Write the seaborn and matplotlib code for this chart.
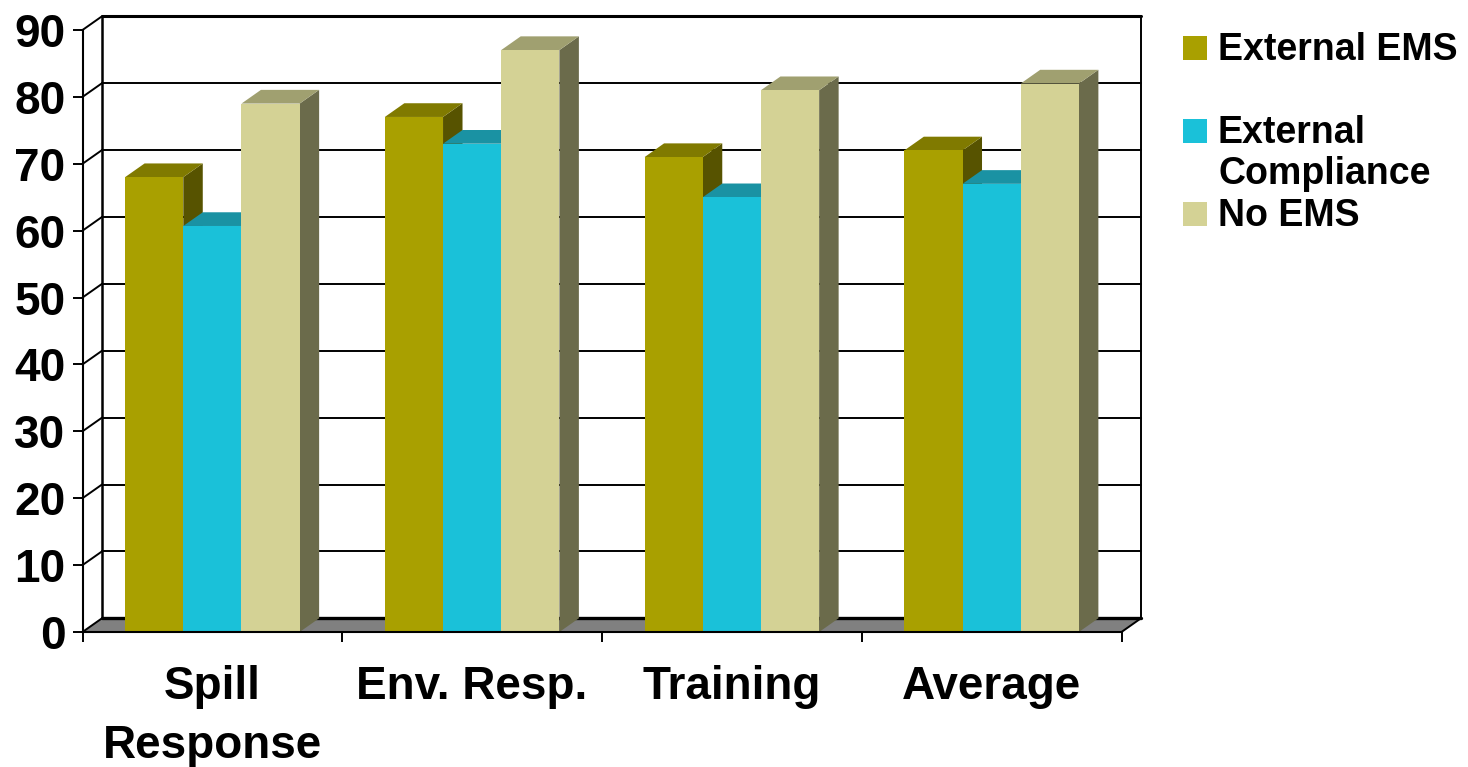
import numpy as np
import pandas as pd
import seaborn as sns
import matplotlib.pyplot as plt
from matplotlib.patches import Polygon, Rectangle

# values
categories = ['Spill\nResponse', 'Env. Resp.', 'Training', 'Average']
series_names = ['External EMS', 'External\nCompliance', 'No EMS']
external_ems = [68, 77, 71, 72]
external_compliance = [60.7, 73, 65, 67]
no_ems = [79, 87, 81, 82]
y_ticks = [0, 10, 20, 30, 40, 50, 60, 70, 80, 90]

front_colors = ['#A9A000', '#1AC1D9', '#D4D295']
top_colors = ['#807A00', '#1A92A3', '#A0A070']
side_colors = ['#575300', '#157F8F', '#6B6B4B']

# pseudo 3d depth in data units
DX = 19.5 / 260
DY = 2.05

W, H = 1468, 767

df = pd.DataFrame({
    'category': categories * 3,
    'series': [s for s in series_names for _ in categories],
    'value': external_ems + external_compliance + no_ems,
})

sns.set_style('white')
plt.rcParams['font.family'] = ['Liberation Sans', 'DejaVu Sans']
plt.rcParams['font.weight'] = 'bold'

fig = plt.figure(figsize=(W / 100, H / 100), dpi=100)
ax = fig.add_axes([82.5 / W, 1 - 632 / H, 1039 / W, 602 / H])

sns.barplot(data=df, x='category', y='value', hue='series', palette=front_colors,
            width=0.672, gap=0, saturation=1, legend=False, linewidth=0, zorder=5, ax=ax)

ax.set_xlim(-0.5, 3.5)
ax.set_ylim(0, 90)
ax.set_xlabel('')
ax.set_ylabel('')

x0, x1 = ax.get_xlim()

# floor
ax.add_patch(Polygon([(x0, 0), (x1, 0), (x1 + DX, DY), (x0 + DX, DY)], closed=True,
                     facecolor='#808080', edgecolor='none', clip_on=False, zorder=1))
ax.plot([x0 + DX, x1 + DX], [DY, DY], color='black', lw=2.4, clip_on=False, zorder=1.5)
ax.plot([x1, x1 + DX], [0, DY], color='black', lw=1.4, clip_on=False, zorder=1.5)

# back wall grid + left wall diagonals
for t in y_ticks:
    ax.plot([x0, x0 + DX], [t, t + DY], color='black', lw=1.4, clip_on=False, zorder=1.5)
    if t > 0:
        ax.plot([x0 + DX, x1 + DX], [t + DY, t + DY], color='black',
                lw=2.2 if t == 90 else 1.4, clip_on=False, zorder=1.5)
ax.plot([x0 + DX, x0 + DX], [DY, 90 + DY], color='black', lw=1.8, clip_on=False, zorder=1.5)
ax.plot([x1 + DX, x1 + DX], [DY, 90 + DY], color='black', lw=1.4, clip_on=False, zorder=1.5)

# sides and tops of the bars, left to right so the next top sits on the previous side
bars = []
for i, container in enumerate(ax.containers):
    for bar in container:
        bars.append((bar.get_x(), i, bar))
for _, i, bar in sorted(bars, key=lambda b: b[0]):
    left = bar.get_x()
    right = left + bar.get_width()
    top = bar.get_height()
    ax.add_patch(Polygon([(right, 0), (right + DX, DY), (right + DX, top + DY), (right, top)],
                         closed=True, facecolor=side_colors[i], edgecolor='none', zorder=3))
    ax.add_patch(Polygon([(left, top), (right, top), (right + DX, top + DY), (left + DX, top + DY)],
                         closed=True, facecolor=top_colors[i], edgecolor='none', zorder=3))

# axes
sns.despine(ax=ax, top=True, right=True)
for name in ['left', 'bottom']:
    ax.spines[name].set_linewidth(1.5)
    ax.spines[name].set_color('black')
    ax.spines[name].set_zorder(6)

ax.set_yticks(y_ticks)
ax.set_xticks(np.arange(x0, x1 + 0.5), labels=[])
ax.set_xticks(np.arange(len(categories)), labels=categories, minor=True)
ax.tick_params(axis='y', which='major', left=True, length=7.2, width=1.4, pad=5,
               labelsize=33, color='black', labelcolor='black')
ax.tick_params(axis='x', which='major', bottom=True, length=7.2, width=1.4, color='black')
ax.tick_params(axis='x', which='minor', bottom=False, length=0, pad=23.5, labelsize=33,
               labelcolor='black')
for lab in ax.get_xticklabels(minor=True):
    lab.set_linespacing(1.46)

# legend drawn by hand because the wrapped entry hangs from its first line
legend_tops = [36, 119, 202]
for name, color, ytop in zip(series_names, front_colors, legend_tops):
    fig.add_artist(Rectangle((1183 / W, 1 - (ytop + 24) / H), 24 / W, 24 / H,
                             transform=fig.transFigure, facecolor=color, edgecolor='none'))
    fig.text(1218 / W, 1 - (ytop - 4) / H, name, fontsize=27, fontweight='bold',
             va='top', ha='left', linespacing=1.17, color='black')

fig.savefig('out.png', dpi=100, facecolor='white')
